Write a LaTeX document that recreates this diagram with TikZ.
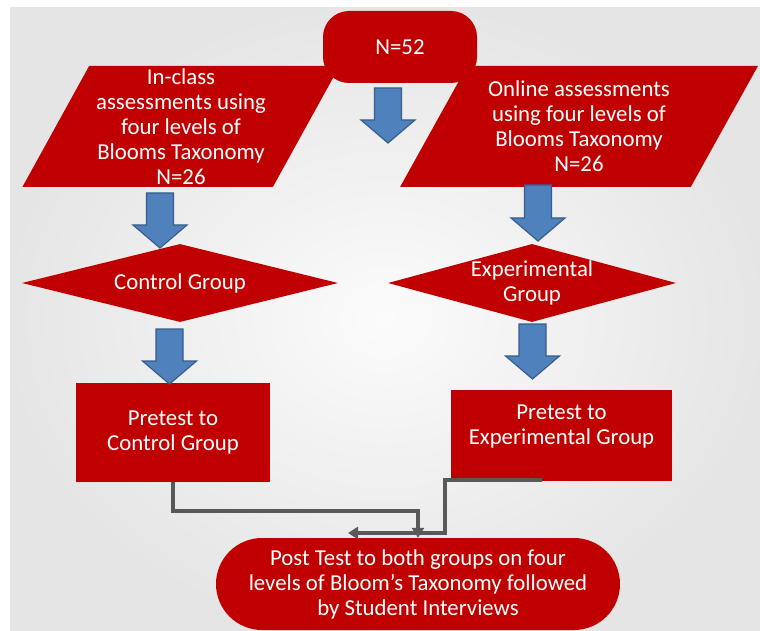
\documentclass[tikz,border=0pt]{standalone}
\usepackage{fontspec}
\setmainfont{Carlito}
\usetikzlibrary{shapes.geometric,arrows.meta}
\definecolor{boxred}{HTML}{C00000}
\definecolor{arrowblue}{HTML}{4F81BD}
\definecolor{arrowedge}{HTML}{385D8A}
\definecolor{linegray}{HTML}{595959}
\tikzset{
  term/.style={rectangle, fill=boxred, text=white, align=center, inner sep=0pt},
  io/.style={trapezium, trapezium stretches=true, fill=boxred, text=white, align=center, inner sep=0pt, minimum height=121pt},
  decision/.style={diamond, fill=boxred, text=white, align=center, inner sep=0pt, minimum height=78pt},
  proc/.style={rectangle, fill=boxred, text=white, align=center},
  link/.style={draw=linegray, line width=3.6pt, line join=miter, -{Triangle[length=10pt,width=12pt]}},
  blk/.style={fill=arrowblue, draw=arrowedge, line width=1.2pt, line join=miter}
}
%% block arrow: x of middle, y of top, y of tip
\newcommand{\downblk}[3]{%
  \filldraw[blk] (#1-13.5,#2) -- (#1+13.5,#2) -- (#1+13.5,#3+23) -- (#1+27,#3+23)
    -- (#1,#3) -- (#1-27,#3+23) -- (#1-13.5,#3+23) -- cycle;}
\begin{document}
\begin{tikzpicture}[x=1pt, y=1pt, font=\fontsize{22.8}{25}\selectfont, line join=round]
    \useasboundingbox (0,0) rectangle (760,630);
    \shade[inner color=gray!3, outer color=gray!20] (10,0) rectangle (760,622);
    %% the two groups
    \node[io, trapezium left angle=62, trapezium right angle=118, minimum width=318pt] (inclass) at (181,503.5)
        {In-class\\assessments using\\four levels of\\Blooms Taxonomy\\N=26};
    \node[io, trapezium left angle=59, trapezium right angle=121, minimum width=358pt] (online) at (579,503.5)
        {Online assessments\\using four levels of\\Blooms Taxonomy\\N=26};
    \node[term, minimum width=154pt, minimum height=72pt, rounded corners=26pt] (total) at (400,583) {N=52};
    \node[decision, aspect=4, minimum width=316pt] (control) at (180,347) {Control Group};
    \node[decision, aspect=3.7, minimum width=288pt] (exper) at (532,347) {Experimental\\Group};
    \node[proc, minimum width=194pt, minimum height=99pt] (pretc) at (173,197.5) {Pretest to\\Control Group};
    \node[proc, minimum width=221pt, minimum height=91pt] (pretx) at (561.5,194.5)
        {Pretest to\\Experimental Group\\[-4pt]\mbox{}};
    \node[term, minimum width=404pt, minimum height=92pt, rounded corners=46pt] (post) at (418,46)
        {Post Test to both groups on four\\levels of Bloom’s Taxonomy followed\\by Student Interviews};
    %% blue arrows
    \downblk{388}{542}{487}
    \downblk{160}{437}{382}
    \downblk{538}{445}{389}
    \downblk{169.5}{301}{246}
    \downblk{532.5}{306}{251}
    %% connectors
    \coordinate (xout) at (542,150);
    \coordinate (lost) at (348,97);
    \draw[link] (pretc.south) -- ++(0,-29) -| (post.north);
    \draw[link] (xout) -| (445,97) -- (lost);
\end{tikzpicture}
\end{document}
